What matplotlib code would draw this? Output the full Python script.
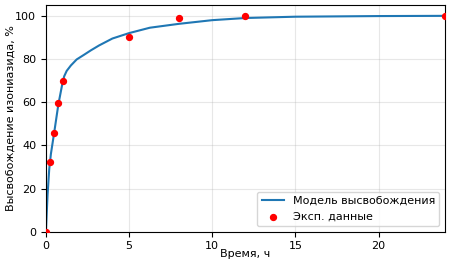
import matplotlib
matplotlib.use("Agg")
import matplotlib.pyplot as plt

# model curve
model_t = [0, 0.1, 0.2, 0.3, 0.5, 0.75, 1.0, 1.1, 1.25, 1.5, 1.85, 2.3, 2.7, 3.2, 4.0,
           5.0, 6.25, 8, 10, 12, 15, 20, 24]
model_y = [0, 17, 29, 36, 46, 59, 69, 72, 74.5, 77, 79.8, 82, 84, 86.3, 89.5,
           92, 94.5, 96.3, 98, 99, 99.6, 99.9, 100]

# experimental data
exp_t = [0, 0.25, 0.5, 0.75, 1, 5, 8, 12, 24]
exp_y = [0, 32.5, 45.5, 59.5, 69.8, 90, 99, 100, 100]

fig, ax = plt.subplots(figsize=(4.5, 2.66), dpi=100)
fig.subplots_adjust(left=0.102, right=0.989, bottom=0.129, top=0.981)

ax.plot(model_t, model_y, color='#1f77b4', lw=1.5, label='Модель высвобождения')
ax.scatter(exp_t, exp_y, color='red', s=18, zorder=3, label='Эксп. данные')

ax.set_xlim(0, 24)
ax.set_ylim(0, 105)
ax.set_xticks([0, 5, 10, 15, 20])
ax.set_yticks([0, 20, 40, 60, 80, 100])
ax.tick_params(labelsize=8)
ax.grid(True, alpha=0.3)
ax.set_xlabel('Время, ч', fontsize=8, labelpad=-1.5)
ax.set_ylabel('Высвобождение изониазида, %', fontsize=8, labelpad=0)
ax.legend(loc='lower right', fontsize=8)

fig.savefig("out.png", dpi=100)
